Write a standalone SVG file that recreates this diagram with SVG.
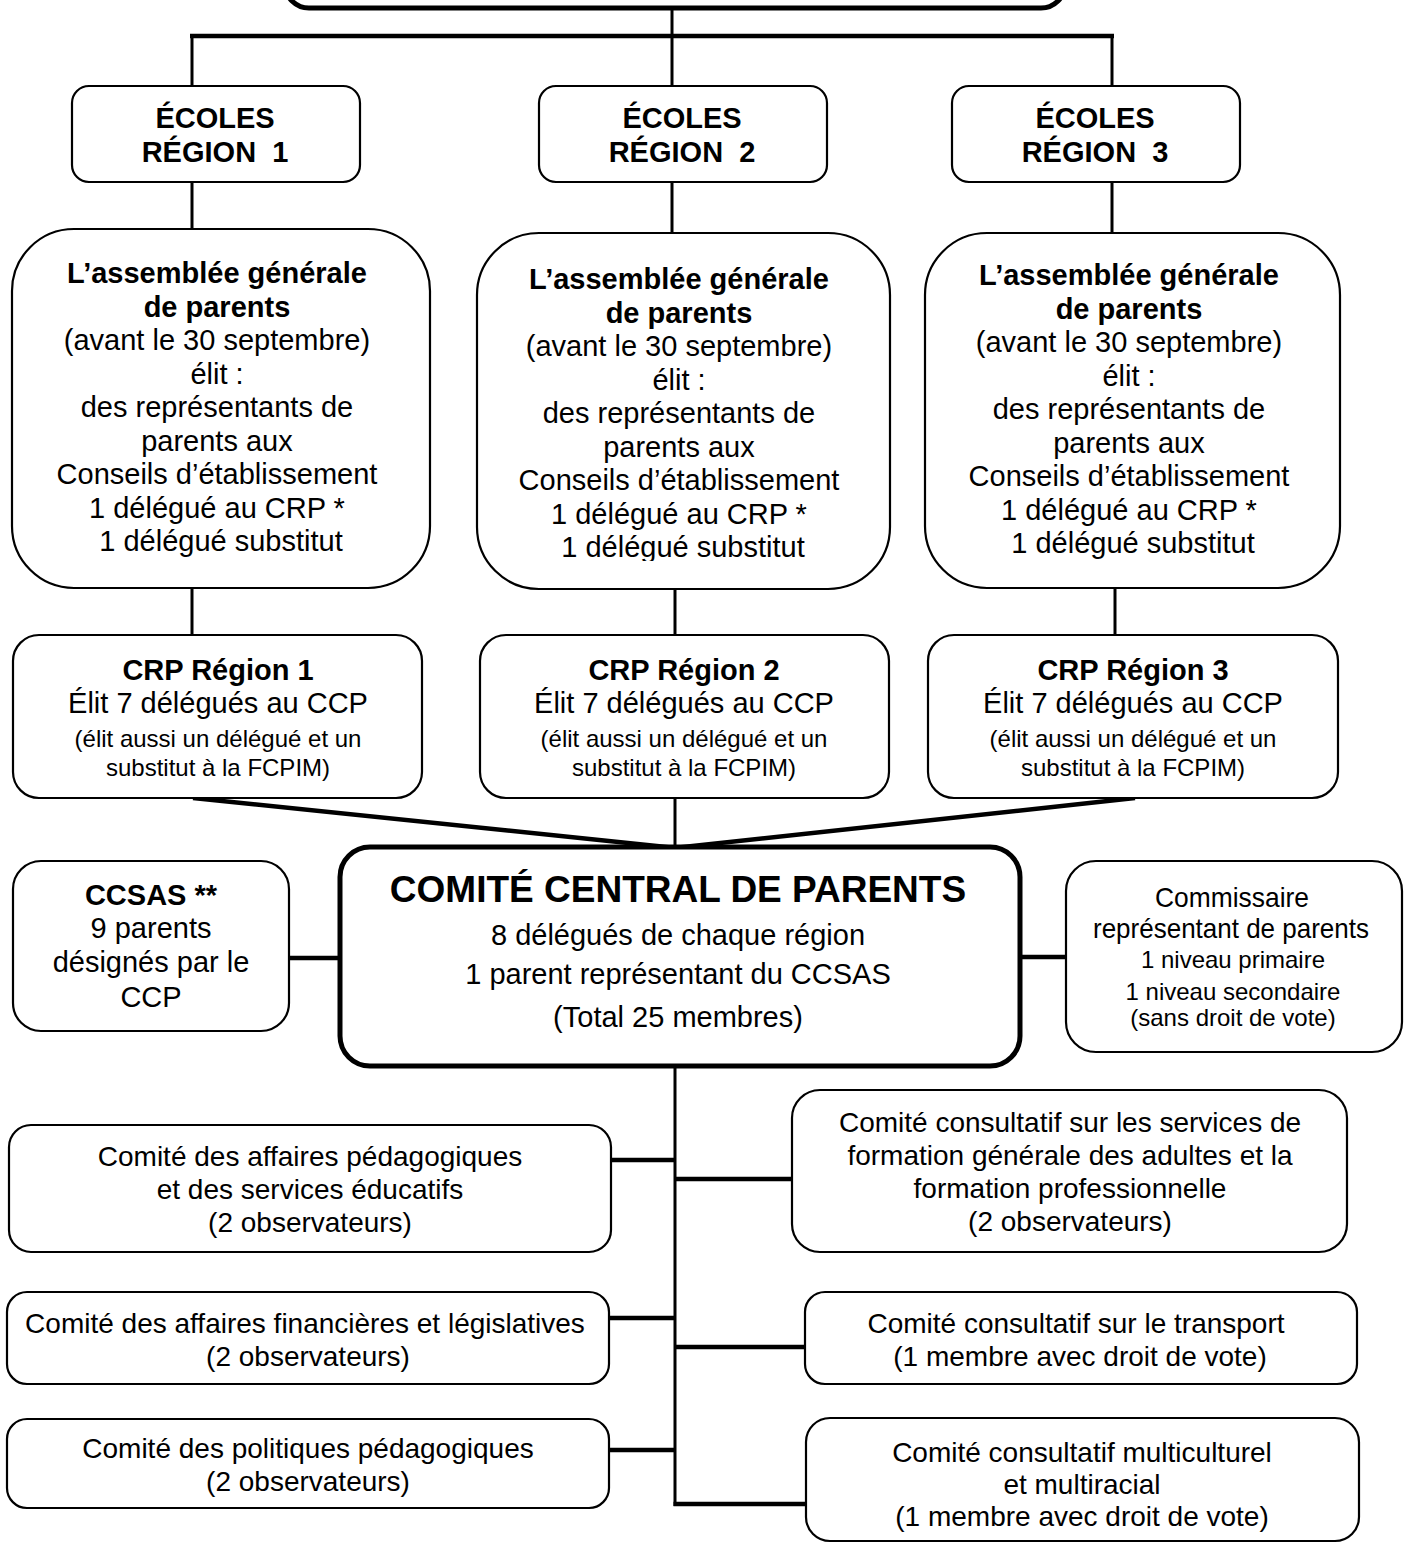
<svg xmlns="http://www.w3.org/2000/svg" width="1408" height="1545" viewBox="0 0 1408 1545">
<style>
.bx{fill:#fff;stroke:#000;stroke-width:2.2}
.bk{fill:#fff;stroke:#000;stroke-width:5}
.ln{stroke:#000;stroke-width:3;fill:none}
.lt{stroke:#000;stroke-width:4.5;fill:none}
text{font-family:"Liberation Sans",Arial,sans-serif;fill:#000;text-anchor:middle}
.b{font-weight:bold}
.t29{font-size:29px}
.t28{font-size:28px}
.t24{font-size:24px}
.pre{white-space:pre}
</style>
<defs>
<clipPath id="clip2"><rect x="470" y="230" width="430" height="331"/></clipPath>
</defs>
<rect width="1408" height="1545" fill="#fff"/>

<g id="connectors">
<line class="ln" x1="672" y1="8" x2="672" y2="36"/>
<line class="lt" x1="190" y1="36" x2="1114" y2="36"/>
<line class="ln" x1="192" y1="36" x2="192" y2="86"/>
<line class="ln" x1="672" y1="36" x2="672" y2="86"/>
<line class="ln" x1="1112" y1="36" x2="1112" y2="86"/>
<line class="ln" x1="192" y1="182" x2="192" y2="230"/>
<line class="ln" x1="672" y1="182" x2="672" y2="233"/>
<line class="ln" x1="1112" y1="182" x2="1112" y2="233"/>
<line class="ln" x1="192" y1="588" x2="192" y2="635"/>
<line class="ln" x1="675" y1="590" x2="675" y2="635"/>
<line class="ln" x1="1115" y1="588" x2="1115" y2="635"/>
<line class="lt" x1="193" y1="798" x2="676" y2="848"/>
<line class="lt" x1="1135" y1="798" x2="674" y2="848"/>
<line class="ln" x1="675" y1="798" x2="675" y2="848"/>
<line class="lt" x1="289" y1="958" x2="340" y2="958"/>
<line class="lt" x1="1020" y1="957" x2="1066" y2="957"/>
<line class="ln" x1="675" y1="1066" x2="675" y2="1506"/>
<line class="lt" x1="611" y1="1160" x2="675" y2="1160"/>
<line class="lt" x1="675" y1="1179" x2="792" y2="1179"/>
<line class="lt" x1="609" y1="1318" x2="675" y2="1318"/>
<line class="lt" x1="675" y1="1347" x2="805" y2="1347"/>
<line class="lt" x1="609" y1="1450" x2="675" y2="1450"/>
<line class="lt" x1="673.5" y1="1504" x2="806" y2="1504"/>
</g>

<g id="top">
<rect class="bk" x="285" y="-60" width="780" height="68" rx="24"/>
</g>

<g id="ecoles1">
<rect class="bx" x="72" y="86" width="288" height="96" rx="17"/>
<text class="t29 b" x="215" y="128">ÉCOLES</text>
<text class="t29 b pre" x="215" y="162">RÉGION  1</text>
</g>
<g id="ecoles2">
<rect class="bx" x="539" y="86" width="288" height="96" rx="17"/>
<text class="t29 b" x="682" y="128">ÉCOLES</text>
<text class="t29 b pre" x="682" y="162">RÉGION  2</text>
</g>
<g id="ecoles3">
<rect class="bx" x="952" y="86" width="288" height="96" rx="17"/>
<text class="t29 b" x="1095" y="128">ÉCOLES</text>
<text class="t29 b pre" x="1095" y="162">RÉGION  3</text>
</g>

<g id="assemblee1">
<rect class="bx" x="12" y="229" width="418" height="359" rx="62"/>
<text class="t29" x="221">
<tspan class="b" x="221" y="283">L’assemblée générale</tspan>
<tspan class="b" x="221" y="316.5">de parents</tspan>
<tspan x="221" y="350">(avant le 30 septembre)</tspan>
<tspan x="221" y="383.5">élit :</tspan>
<tspan x="221" y="417">des représentants de</tspan>
<tspan x="221" y="450.5">parents aux</tspan>
<tspan x="221" y="484">Conseils d’établissement</tspan>
<tspan x="221" y="517.5">1 délégué au CRP *</tspan>
<tspan x="221" y="551">1 délégué substitut</tspan>
</text>
</g>
<g id="assemblee2">
<rect class="bx" x="477" y="233" width="413" height="356" rx="62"/>
<text class="t29" x="683" clip-path="url(#clip2)">
<tspan class="b" x="683" y="289">L’assemblée générale</tspan>
<tspan class="b" x="683" y="322.5">de parents</tspan>
<tspan x="683" y="356">(avant le 30 septembre)</tspan>
<tspan x="683" y="389.5">élit :</tspan>
<tspan x="683" y="423">des représentants de</tspan>
<tspan x="683" y="456.5">parents aux</tspan>
<tspan x="683" y="490">Conseils d’établissement</tspan>
<tspan x="683" y="523.5">1 délégué au CRP *</tspan>
<tspan x="683" y="557">1 délégué substitut</tspan>
</text>
</g>
<g id="assemblee3">
<rect class="bx" x="925" y="233" width="415" height="355" rx="62"/>
<text class="t29" x="1133">
<tspan class="b" x="1133" y="285">L’assemblée générale</tspan>
<tspan class="b" x="1133" y="318.5">de parents</tspan>
<tspan x="1133" y="352">(avant le 30 septembre)</tspan>
<tspan x="1133" y="385.5">élit :</tspan>
<tspan x="1133" y="419">des représentants de</tspan>
<tspan x="1133" y="452.5">parents aux</tspan>
<tspan x="1133" y="486">Conseils d’établissement</tspan>
<tspan x="1133" y="519.5">1 délégué au CRP *</tspan>
<tspan x="1133" y="553">1 délégué substitut</tspan>
</text>
</g>

<g id="crp1">
<rect class="bx" x="13" y="635" width="409" height="163" rx="26"/>
<text class="t29 b" x="218" y="680">CRP Région 1</text>
<text class="t29" x="218" y="713">Élit 7 délégués au CCP</text>
<text class="t24" x="218" y="747">(élit aussi un délégué et un</text>
<text class="t24" x="218" y="776">substitut à la FCPIM)</text>
</g>
<g id="crp2">
<rect class="bx" x="480" y="635" width="409" height="163" rx="26"/>
<text class="t29 b" x="684" y="680">CRP Région 2</text>
<text class="t29" x="684" y="713">Élit 7 délégués au CCP</text>
<text class="t24" x="684" y="747">(élit aussi un délégué et un</text>
<text class="t24" x="684" y="776">substitut à la FCPIM)</text>
</g>
<g id="crp3">
<rect class="bx" x="928" y="635" width="410" height="163" rx="26"/>
<text class="t29 b" x="1133" y="680">CRP Région 3</text>
<text class="t29" x="1133" y="713">Élit 7 délégués au CCP</text>
<text class="t24" x="1133" y="747">(élit aussi un délégué et un</text>
<text class="t24" x="1133" y="776">substitut à la FCPIM)</text>
</g>

<g id="ccp">
<rect class="bk" x="340" y="847" width="680" height="219" rx="30"/>
<text class="b" style="font-size:37px" x="678" y="902">COMITÉ CENTRAL DE PARENTS</text>
<text class="t29" x="678" y="945">8 délégués de chaque région</text>
<text class="t29" x="678" y="984">1 parent représentant du CCSAS</text>
<text class="t29" x="678" y="1027">(Total 25 membres)</text>
</g>

<g id="ccsas">
<rect class="bx" x="13" y="861" width="276" height="170" rx="28"/>
<text class="t29 b" x="151" y="905">CCSAS **</text>
<text class="t29" x="151" y="938">9 parents</text>
<text class="t29" x="151" y="972">désignés par le</text>
<text class="t29" x="151" y="1007">CCP</text>
</g>

<g id="commissaire">
<rect class="bx" x="1066" y="861" width="336" height="191" rx="30"/>
<text class="t28" x="1232" y="907" textLength="154" lengthAdjust="spacingAndGlyphs">Commissaire</text>
<text class="t28" x="1231" y="938" textLength="276" lengthAdjust="spacingAndGlyphs">représentant de parents</text>
<text class="t24" x="1233" y="968">1 niveau primaire</text>
<text class="t24" x="1233" y="1000">1 niveau secondaire</text>
<text class="t24" x="1233" y="1026">(sans droit de vote)</text>
</g>

<g id="comite-pedagogiques">
<rect class="bx" x="9" y="1125" width="602" height="127" rx="22"/>
<text class="t28" x="310" y="1166">Comité des affaires pédagogiques</text>
<text class="t28" x="310" y="1199">et des services éducatifs</text>
<text class="t28" x="310" y="1232">(2 observateurs)</text>
</g>
<g id="comite-financieres">
<rect class="bx" x="7" y="1292" width="602" height="92" rx="20"/>
<text class="t28" x="305" y="1333">Comité des affaires financières et législatives</text>
<text class="t28" x="308" y="1366">(2 observateurs)</text>
</g>
<g id="comite-politiques">
<rect class="bx" x="7" y="1419" width="602" height="89" rx="20"/>
<text class="t28" x="308" y="1458">Comité des politiques pédagogiques</text>
<text class="t28" x="308" y="1491">(2 observateurs)</text>
</g>
<g id="comite-fga">
<rect class="bx" x="792" y="1090" width="555" height="162" rx="28"/>
<text class="t28" x="1070" y="1132">Comité consultatif sur les services de</text>
<text class="t28" x="1070" y="1165">formation générale des adultes et la</text>
<text class="t28" x="1070" y="1198">formation professionnelle</text>
<text class="t28" x="1070" y="1231">(2 observateurs)</text>
</g>
<g id="comite-transport">
<rect class="bx" x="805" y="1292" width="552" height="92" rx="20"/>
<text class="t28" x="1076" y="1333">Comité consultatif sur le transport</text>
<text class="t28" x="1080" y="1366">(1 membre avec droit de vote)</text>
</g>
<g id="comite-multiculturel">
<rect class="bx" x="806" y="1418" width="553" height="123" rx="24"/>
<text class="t28" x="1082" y="1462">Comité consultatif multiculturel</text>
<text class="t28" x="1082" y="1494">et multiracial</text>
<text class="t28" x="1082" y="1526">(1 membre avec droit de vote)</text>
</g>
</svg>
